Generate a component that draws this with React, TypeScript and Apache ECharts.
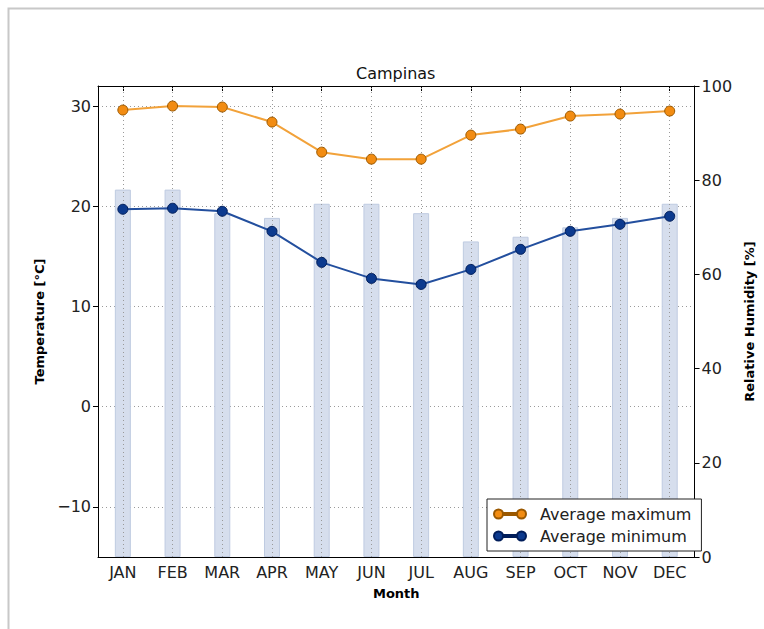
import React, { useEffect, useRef } from "react";
import * as echarts from "echarts";

// Monthly climate normals for Campinas
const months = ["JAN", "FEB", "MAR", "APR", "MAY", "JUN", "JUL", "AUG", "SEP", "OCT", "NOV", "DEC"];
const avgMax = [29.6, 30.0, 29.9, 28.4, 25.4, 24.7, 24.7, 27.1, 27.7, 29.0, 29.2, 29.5];
const avgMin = [19.7, 19.8, 19.5, 17.5, 14.4, 12.8, 12.2, 13.7, 15.7, 17.5, 18.2, 19.0];
const humidity = [78, 78, 73, 72, 75, 75, 73, 67, 68, 70, 72, 75];

const tempRange = [-15, 32];
const humidityRange = [0, 100];

const FONT = "DejaVu Sans";

// legend glyph: a line with a marker at each end
const legendIcon =
  "path://M0,4.5a4.5,4.5 0 1,0 9,0a4.5,4.5 0 1,0 -9,0z M9,3.5h14v2h-14z M23,4.5a4.5,4.5 0 1,0 9,0a4.5,4.5 0 1,0 -9,0z";

// typographic minus for negative tick values
const withMinus = (v: number) => String(v).replace("-", "\u2212");

export default function App() {
  const ref = useRef<HTMLDivElement>(null);

  useEffect(() => {
    if (!ref.current) return;
    const chart = echarts.init(ref.current, null, { renderer: "svg" });

    const axisLine = { show: true, onZero: false, lineStyle: { color: "#000", width: 1 } };
    const tickLabel = { fontSize: 16, color: "#222", fontFamily: FONT };
    const axisName = { fontSize: 13, fontWeight: "bold" as const, color: "#000", fontFamily: FONT };
    const dots = { type: [1, 3] as number[], color: "#9a9a9a", width: 1 };

    chart.setOption({
      animation: false,
      backgroundColor: "#fff",
      textStyle: { fontFamily: FONT },
      graphic: [
        {
          type: "rect",
          z: -10,
          shape: { x: 8.5, y: 8.5, width: 800, height: 700 },
          style: { fill: "none", stroke: "#c8c8c8", lineWidth: 2 },
        },
      ],
      title: {
        text: "Campinas",
        left: 356,
        top: 65,
        padding: 0,
        textStyle: { fontSize: 16, fontWeight: "normal", color: "#111", fontFamily: FONT },
      },
      grid: { left: 98, right: 57, top: 86, bottom: 72 },
      legend: {
        orient: "vertical",
        left: 487,
        top: 499,
        itemWidth: 32,
        itemHeight: 9,
        itemGap: 4,
        padding: [6, 10, 6, 6],
        borderColor: "#222",
        borderWidth: 1,
        borderRadius: 0,
        backgroundColor: "#fff",
        icon: legendIcon,
        data: ["Average maximum", "Average minimum"],
        textStyle: { fontSize: 16, color: "#222", fontFamily: FONT, lineHeight: 18, padding: [0, 0, 0, 9] },
      },
      xAxis: [
        {
          type: "category",
          data: months,
          position: "bottom",
          boundaryGap: true,
          axisLine,
          axisTick: { show: true, inside: true, alignWithLabel: true, length: 5, lineStyle: { color: "#000" } },
          axisLabel: { ...tickLabel, margin: 7 },
          splitLine: { show: false },
          name: "Month",
          nameLocation: "middle",
          nameGap: 30,
          nameTextStyle: axisName,
        },
        {
          type: "category",
          data: months,
          position: "top",
          boundaryGap: true,
          axisLine,
          axisTick: { show: true, inside: true, alignWithLabel: true, length: 5, lineStyle: { color: "#000" } },
          axisLabel: { show: false },
          splitLine: { show: false },
        },
      ],
      yAxis: [
        {
          type: "value",
          position: "left",
          min: tempRange[0],
          max: tempRange[1],
          splitNumber: 5,
          axisLine,
          axisTick: { show: true, inside: false, length: 5, lineStyle: { color: "#000" } },
          axisLabel: { ...tickLabel, margin: 7, showMinLabel: false, showMaxLabel: false, formatter: withMinus },
          splitLine: { show: true, lineStyle: dots },
          name: "Temperature [°C]",
          nameLocation: "middle",
          nameRotate: 90,
          nameGap: 48,
          nameTextStyle: axisName,
        },
        {
          type: "value",
          position: "right",
          min: humidityRange[0],
          max: humidityRange[1],
          interval: 20,
          axisLine,
          axisTick: { show: true, inside: false, length: 5, lineStyle: { color: "#000" } },
          axisLabel: { ...tickLabel, margin: 7 },
          splitLine: { show: false },
          name: "Relative Humidity [%]",
          nameLocation: "middle",
          nameRotate: 90,
          nameGap: 42,
          nameTextStyle: axisName,
        },
      ],
      series: [
        {
          name: "Relative humidity",
          type: "bar",
          xAxisIndex: 0,
          yAxisIndex: 1,
          data: humidity,
          barWidth: 16,
          z: 1,
          itemStyle: { color: "#d6deed", borderColor: "#bfcbe1", borderWidth: 1 },
          markLine: {
            silent: true,
            z: 2,
            symbol: ["none", "none"],
            label: { show: false },
            lineStyle: dots,
            data: months.map((m) => ({ xAxis: m })),
          },
        },
        {
          name: "Average maximum",
          type: "line",
          xAxisIndex: 0,
          yAxisIndex: 0,
          data: avgMax,
          z: 3,
          symbol: "circle",
          symbolSize: 10,
          lineStyle: { color: "#f2a23a", width: 2 },
          itemStyle: { color: "#f28c12", borderColor: "#9a5800", borderWidth: 1 },
        },
        {
          name: "Average minimum",
          type: "line",
          xAxisIndex: 0,
          yAxisIndex: 0,
          data: avgMin,
          z: 3,
          symbol: "circle",
          symbolSize: 10,
          lineStyle: { color: "#234f9e", width: 2 },
          itemStyle: { color: "#0c3a8e", borderColor: "#001d5a", borderWidth: 1 },
        },
      ],
    });

    return () => chart.dispose();
  }, []);

  return (
    <div
      ref={ref}
      style={{ position: "absolute", left: 0, top: 0, width: 764, height: 629 }}
    />
  );
}
